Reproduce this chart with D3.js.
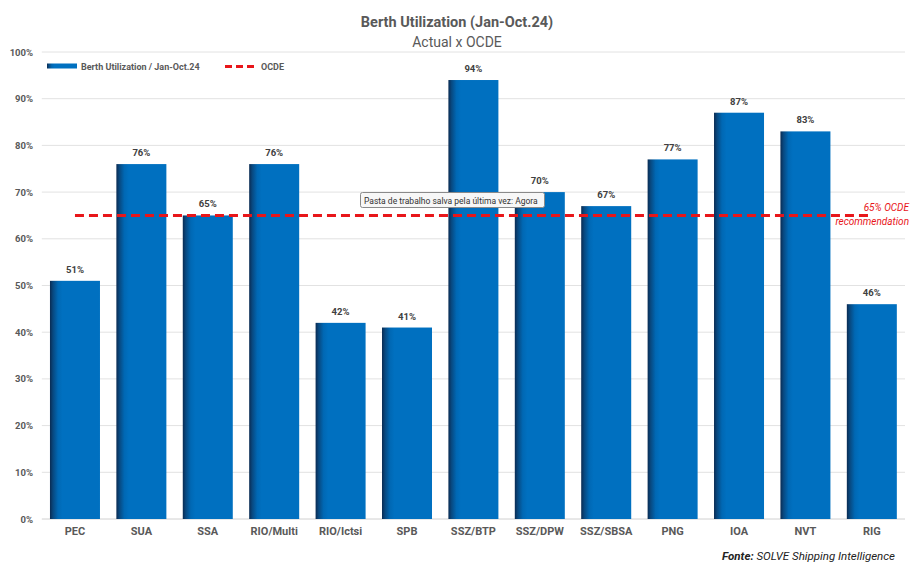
<!DOCTYPE html>
<html><head><meta charset="utf-8">
<script src="https://cdn.jsdelivr.net/npm/d3@7"></script>
<style>body{margin:0;background:#fff;} text{font-family:Roboto, "Liberation Sans", sans-serif;}</style>
</head><body>
<svg id="c" width="915" height="575"></svg>
<script>
const categories = ["PEC","SUA","SSA","RIO/Multi","RIO/Ictsi","SPB","SSZ/BTP","SSZ/DPW","SSZ/SBSA","PNG","IOA","NVT","RIG"];
const utilization = [51,76,65,76,42,41,94,70,67,77,87,83,46];
const ocde = 65;
const yTicks = [0,10,20,30,40,50,60,70,80,90,100];

const svg = d3.select("#c");
const x = d3.scaleBand().domain(categories).range([41.8, 905]).paddingInner(0.247).paddingOuter(0.123);
const y = d3.scaleLinear().domain([0,100]).range([519, 52]);

const defs = svg.append("defs");
const g = defs.append("linearGradient").attr("id","bar").attr("x1","0").attr("x2","1").attr("y1","0").attr("y2","0");
g.append("stop").attr("offset","0%").attr("stop-color","#0a2b52");
g.append("stop").attr("offset","6%").attr("stop-color","#08487f");
g.append("stop").attr("offset","16%").attr("stop-color","#0068b4");
g.append("stop").attr("offset","25%").attr("stop-color","#0070C0");
g.append("stop").attr("offset","100%").attr("stop-color","#0070C0");

// title
svg.append("text").attr("x",457).attr("y",27).attr("text-anchor","middle").attr("font-size",14.5).attr("font-weight","bold").attr("fill","#595959").text("Berth Utilization (Jan-Oct.24)");
svg.append("text").attr("x",457).attr("y",47).attr("text-anchor","middle").attr("font-size",14).attr("fill","#595959").text("Actual x OCDE");

// gridlines
svg.append("g").selectAll("line").data(yTicks).join("line")
  .attr("x1",41.8).attr("x2",905).attr("y1",d=>y(d)).attr("y2",d=>y(d))
  .attr("stroke",d=>d===0?"#d0d0d0":"#e2e2e2").attr("stroke-width",1);

// y axis
const yAxis = d3.axisLeft(y).tickValues(yTicks).tickFormat(d=>d+"%").tickSize(0).tickPadding(0);
const ya = svg.append("g").attr("transform","translate(33,0)").call(yAxis);
ya.select(".domain").remove();
ya.selectAll("text").attr("font-size",9.5).attr("font-weight","bold").attr("fill","#595959").style("font-family","Roboto, sans-serif");

// bars
svg.append("g").selectAll("rect").data(utilization).join("rect")
  .attr("x",(d,i)=>x(categories[i])).attr("width",x.bandwidth())
  .attr("y",d=>y(d)).attr("height",d=>y(0)-y(d)).attr("fill","url(#bar)");

// value labels
svg.append("g").selectAll("text").data(utilization).join("text")
  .attr("x",(d,i)=>x(categories[i])+x.bandwidth()/2).attr("y",d=>y(d)-8)
  .attr("text-anchor","middle").attr("font-size",9.5).attr("font-weight","bold").attr("fill","#404040")
  .text(d=>d+"%");

// x axis
const xAxis = d3.axisBottom(x).tickSize(0).tickPadding(0);
const xa = svg.append("g").attr("transform","translate(0,525)").call(xAxis);
xa.select(".domain").remove();
xa.selectAll("text").attr("font-size",11).attr("font-weight","bold").attr("fill","#595959").attr("dy","0.95em").style("font-family","Roboto, sans-serif");

// OCDE line
const c0 = x(categories[0])+x.bandwidth()/2, c1 = x(categories[categories.length-1])+x.bandwidth()/2;
svg.append("line").attr("x1",c0).attr("x2",c1).attr("y1",y(ocde)).attr("y2",y(ocde))
  .attr("stroke","#e8161a").attr("stroke-width",3).attr("stroke-dasharray","9,5");

svg.append("text").attr("x",909).attr("y",211).attr("text-anchor","end").attr("font-size",10).attr("font-style","italic").attr("fill","#e8161a").text(ocde+"% OCDE");
svg.append("text").attr("x",909).attr("y",225).attr("text-anchor","end").attr("font-size",10).attr("font-style","italic").attr("fill","#e8161a").text("recommendation");

// legend
svg.append("rect").attr("x",47).attr("y",63.5).attr("width",30).attr("height",5).attr("fill","url(#bar)");
svg.append("text").attr("x",81).attr("y",70).attr("font-size",9).attr("font-weight","bold").attr("fill","#595959").text("Berth Utilization / Jan-Oct.24");
svg.append("line").attr("x1",225).attr("x2",255).attr("y1",66.5).attr("y2",66.5).attr("stroke","#e8161a").attr("stroke-width",3).attr("stroke-dasharray","7,4");
svg.append("text").attr("x",261).attr("y",70).attr("font-size",9).attr("font-weight","bold").attr("fill","#595959").text("OCDE");

// tooltip
const tg = svg.append("g");
tg.append("rect").attr("x",360.5).attr("y",192.5).attr("width",184).attr("height",15).attr("rx",2).attr("fill","#f7f7f7").attr("stroke","#8a8a8a");
tg.append("text").attr("x",364).attr("y",203.5).attr("font-size",8.5).attr("fill","#333").text("Pasta de trabalho salva pela última vez: Agora");

// source
const src = svg.append("text").attr("x",895).attr("y",560).attr("text-anchor","end").attr("font-size",11.5).attr("font-style","italic").attr("fill","#222");
src.append("tspan").attr("font-weight","bold").text("Fonte:");
src.append("tspan").text(" SOLVE Shipping Intelligence");
</script>
</body></html>
